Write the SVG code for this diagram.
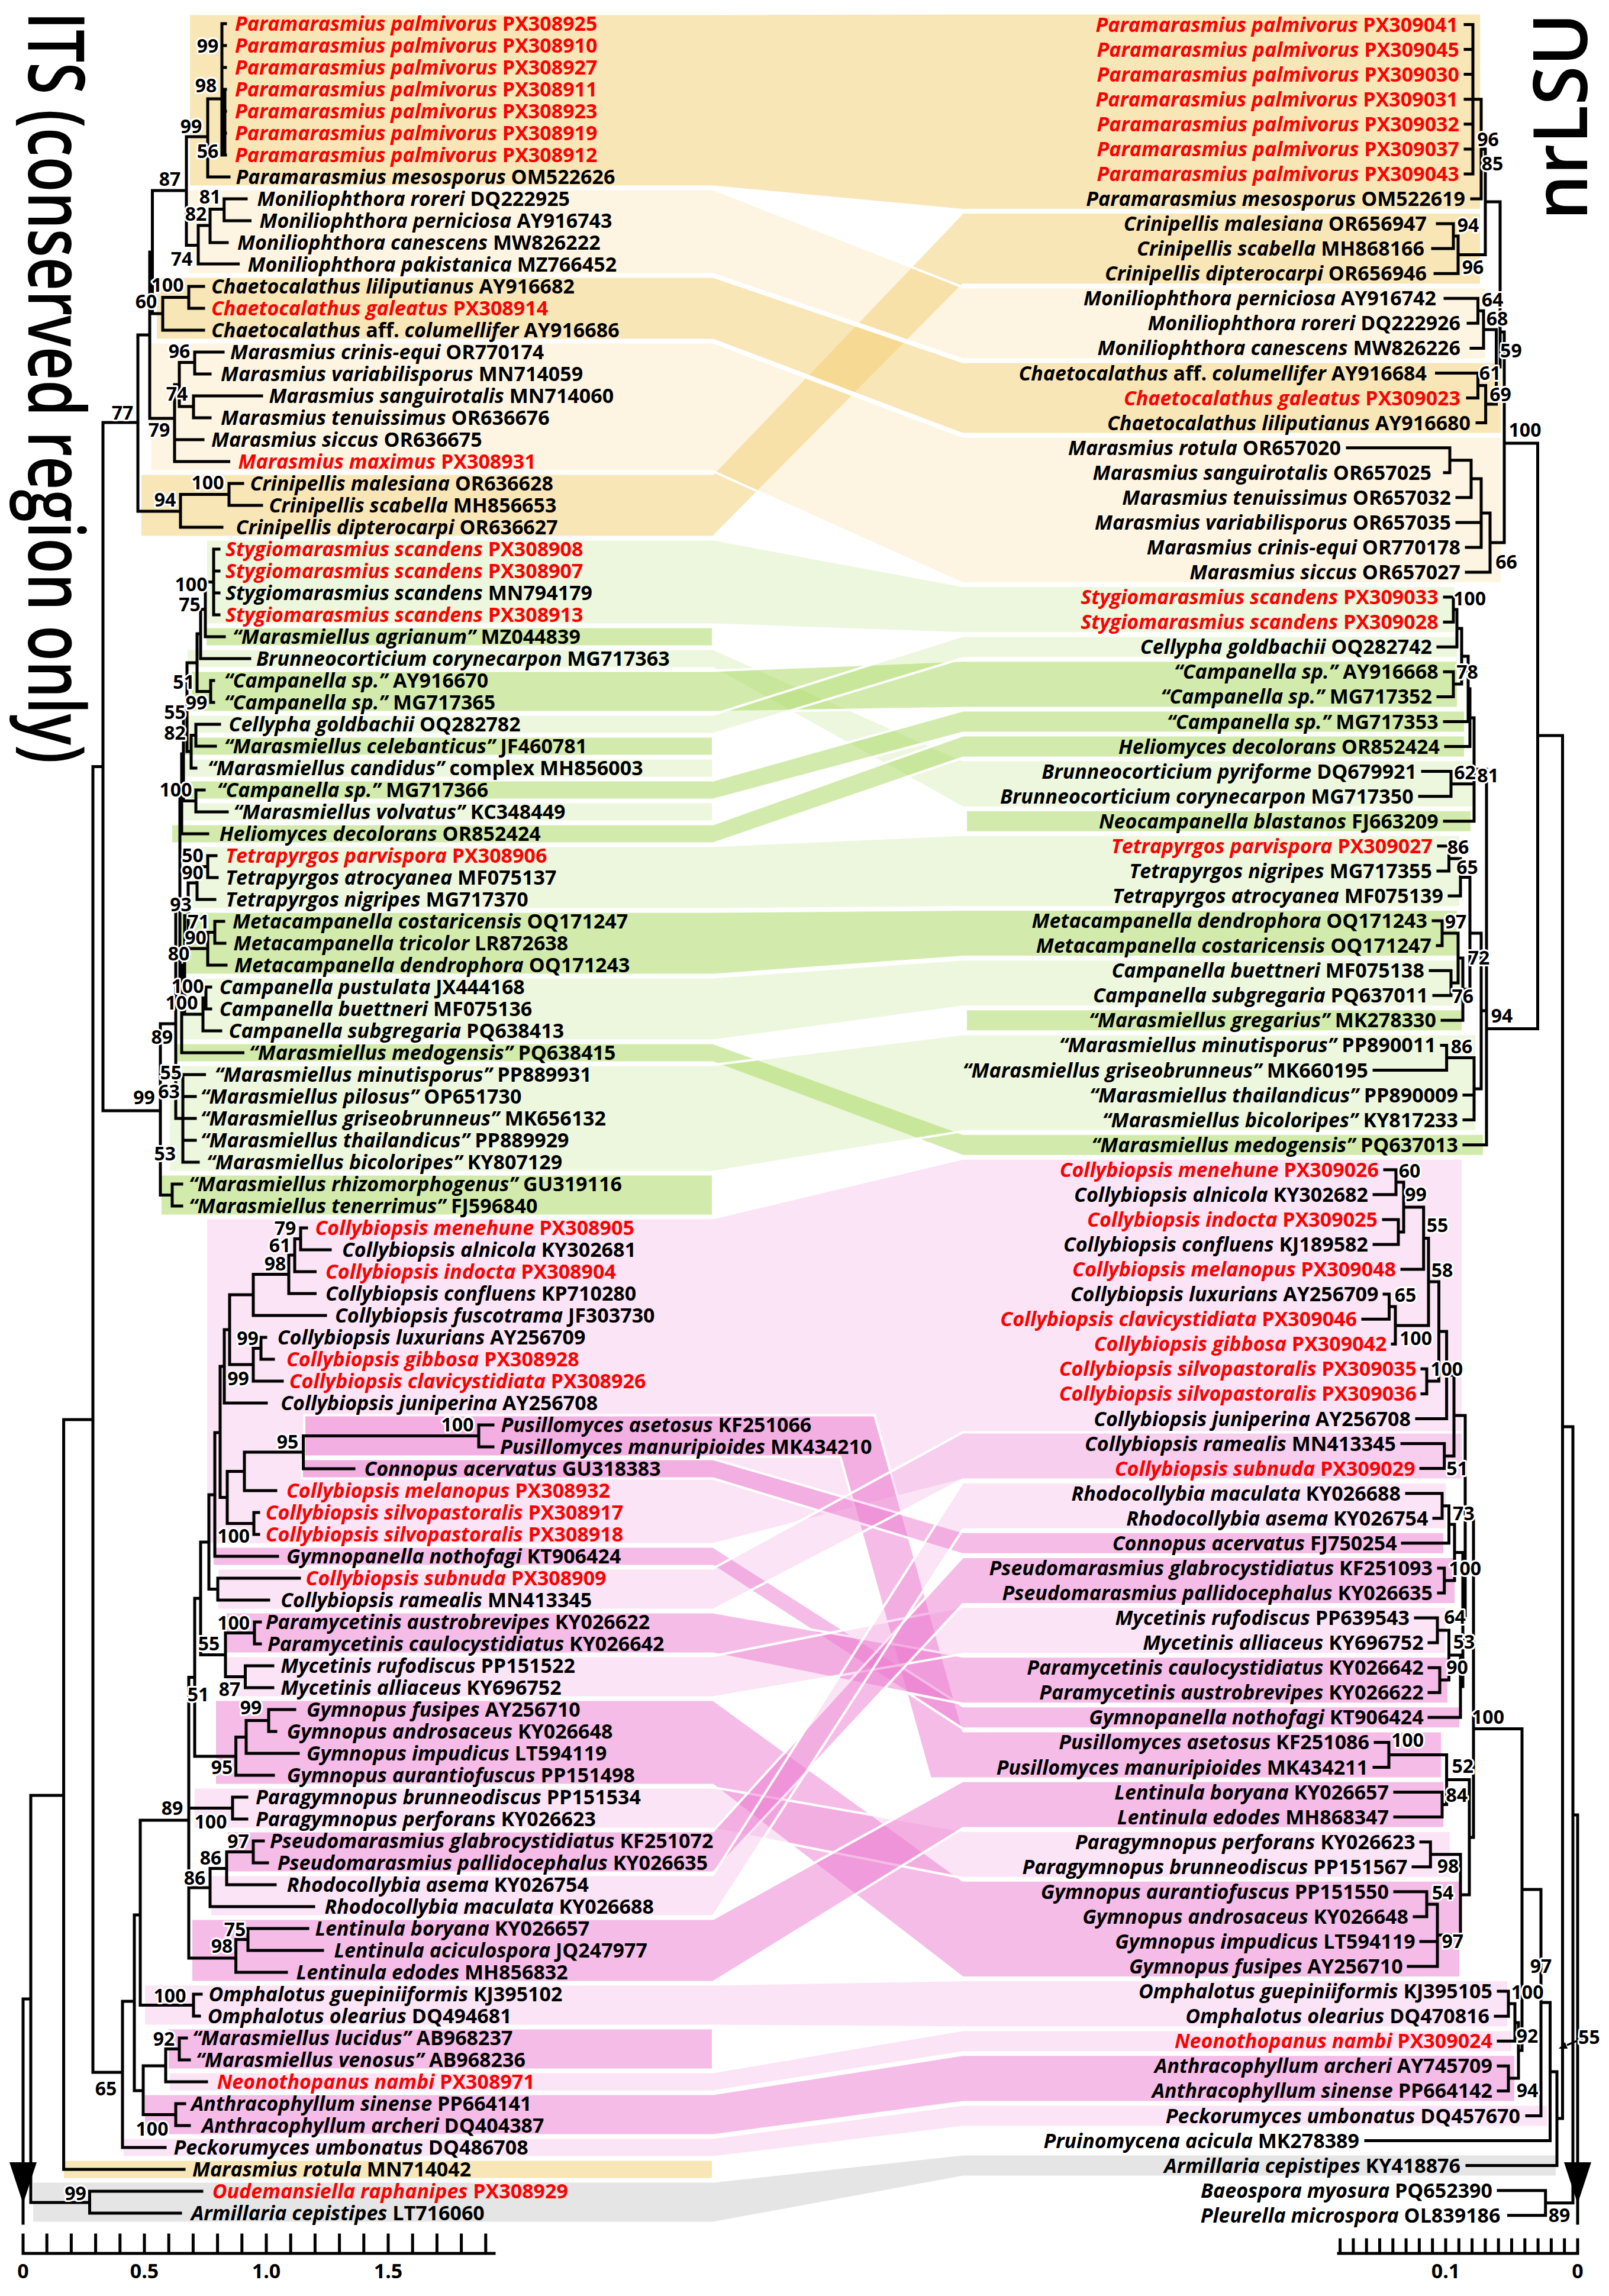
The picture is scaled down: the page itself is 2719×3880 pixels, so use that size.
<svg xmlns="http://www.w3.org/2000/svg" width="2719" height="3880" viewBox="0 0 2719 3880">
<style>
.t{font-family:"Open Sans","DejaVu Sans",sans-serif;font-size:34px;font-weight:700;fill:#000}
.e{text-anchor:end}
.i{font-style:italic}
.r{fill:#f00}
.n{font-family:"Open Sans","DejaVu Sans",sans-serif;font-size:32px;font-weight:700;text-anchor:middle;fill:#000;stroke:#fff;stroke-width:6px;paint-order:stroke;stroke-linejoin:round}
.sc{font-family:"Open Sans","DejaVu Sans",sans-serif;font-size:34px;font-weight:700;text-anchor:middle}
.ttl{font-family:"Open Sans","DejaVu Sans",sans-serif;font-size:132px;font-weight:600}
.br{fill:none;stroke:#000;stroke-width:5;stroke-linecap:square}
.b{stroke:#fff;stroke-width:4;stroke-linejoin:round}
.od{fill:#f3ce6f;fill-opacity:.5}
.ol{fill:#f3ce6f;fill-opacity:.2}
.gd{fill:#a5d75a;fill-opacity:.5}
.gl{fill:#a5d75a;fill-opacity:.2}
.pd{fill:#ec7acf;fill-opacity:.5}
.pl{fill:#ec7acf;fill-opacity:.2}
.gy{fill:#ccc;fill-opacity:.5}
</style>
<rect width="2719" height="3880" fill="#fff"/>
<g id="connectors">
<polygon class="b od" points="319,23.5 1205,23.5 1627,22.5 2503,22.5 2503,355 1627,355 1205,315.5 319,315.5"/>
<polygon class="b od" points="237,800.5 1205,800.5 1627,359.1 2503,359.1 2503,481.2 1627,481.2 1205,907.5 237,907.5"/>
<polygon class="b ol" points="317,319.5 1205,319.5 1627,485.3 2512,485.3 2512,607.4 1627,607.4 1205,463.5 317,463.5"/>
<polygon class="b od" points="263,467.5 1205,467.5 1627,611.5 2538,611.5 2538,733.6 1627,733.6 1205,574.5 263,574.5"/>
<polygon class="b ol" points="253.5,578.5 1205,578.5 1627,737.7 2538,737.7 2538,986.1 1627,986.1 1205,796.5 253.5,796.5"/>
<rect class="b od" x="106" y="3649.5" width="1099" height="33"/>
<polygon class="b gl" points="348,911.5 1205,911.5 1627,990.1 2460,990.1 2460,1070.2 1627,1070.2 1205,1055.5 348,1055.5"/>
<rect class="b gd" x="347" y="1059.5" width="858" height="33"/>
<polygon class="b gl" points="315,1096.5 1205,1096.5 1627,1284.6 2491,1284.6 2491,1364.7 1627,1364.7 1205,1129.5 315,1129.5"/>
<polygon class="b gd" points="322,1133.5 1205,1133.5 1627,1116.3 2464,1116.3 2464,1196.4 1627,1196.4 1205,1203.5 322,1203.5"/>
<polygon class="b gl" points="306,1207.5 1205,1207.5 1627,1074.3 2464,1074.3 2464,1112.3 1627,1112.3 1205,1240.5 306,1240.5"/>
<rect class="b gd" x="305" y="1244.5" width="900" height="33"/>
<rect class="b gl" x="303.5" y="1281.5" width="901.5" height="33"/>
<polygon class="b gd" points="305,1318.5 1205,1318.5 1627,1200.5 2476,1200.5 2476,1238.5 1627,1238.5 1205,1351.5 305,1351.5"/>
<rect class="b gl" x="305" y="1355.5" width="900" height="33"/>
<polygon class="b gd" points="289,1392.5 1205,1392.5 1627,1242.6 2476,1242.6 2476,1280.6 1627,1280.6 1205,1425.5 289,1425.5"/>
<rect class="b gd" x="1632" y="1368.8" width="855" height="38"/>
<polygon class="b gl" points="322,1429.5 1205,1429.5 1627,1410.8 2468,1410.8 2468,1533 1627,1533 1205,1536.5 322,1536.5"/>
<polygon class="b gd" points="302,1540.5 1205,1540.5 1627,1537.1 2464,1537.1 2464,1617.1 1627,1617.1 1205,1647.5 302,1647.5"/>
<polygon class="b gl" points="299,1651.5 1205,1651.5 1627,1621.2 2476,1621.2 2476,1701.3 1627,1701.3 1205,1758.5 299,1758.5"/>
<rect class="b gd" x="1632" y="1705.3" width="840" height="38"/>
<polygon class="b gd" points="293,1762.5 1205,1762.5 1627,1915.7 2508,1915.7 2508,1953.7 1627,1953.7 1205,1795.5 293,1795.5"/>
<polygon class="b gl" points="285,1799.5 1205,1799.5 1627,1747.4 2495,1747.4 2495,1911.6 1627,1911.6 1205,1980.5 285,1980.5"/>
<rect class="b gd" x="271" y="1984.5" width="934" height="70"/>
<polygon class="b pl" points="348,2058.5 1205,2058.5 1627,1957.8 2472,1957.8 2472,2500.6 1627,2500.6 1205,2609.5 348,2609.5"/>
<polygon class="b pd" points="514,2391.5 1478,2391.5 1628,2925.4 2437,2925.4 2437,3005.5 1572,3005.5 1420,2461.5 514,2461.5"/>
<polygon class="b pd" points="510,2465.5 1205,2465.5 1627,2588.8 2441,2588.8 2441,2626.8 1627,2626.8 1205,2498.5 510,2498.5"/>
<polygon class="b pd" points="359,2613.5 1205,2613.5 1627,2883.3 2468,2883.3 2468,2921.3 1627,2921.3 1205,2646.5 359,2646.5"/>
<polygon class="b pl" points="367,2650.5 1205,2650.5 1627,2420.6 2472,2420.6 2472,2500.6 1627,2500.6 1205,2720.5 367,2720.5"/>
<polygon class="b pd" points="381,2724.5 1205,2724.5 1627,2799.2 2448,2799.2 2448,2879.3 1627,2879.3 1205,2794.5 381,2794.5"/>
<polygon class="b pl" points="381,2798.5 1205,2798.5 1627,2715.1 2444,2715.1 2444,2795.1 1627,2795.1 1205,2868.5 381,2868.5"/>
<polygon class="b pd" points="363,2872.5 1205,2872.5 1627,3177.8 2468,3177.8 2468,3342.1 1627,3342.1 1205,3016.5 363,3016.5"/>
<polygon class="b pl" points="327,3020.5 1205,3020.5 1627,3093.7 2452,3093.7 2452,3173.8 1627,3173.8 1205,3090.5 327,3090.5"/>
<polygon class="b pd" points="383,3094.5 1205,3094.5 1627,2630.9 2460,2630.9 2460,2711 1627,2711 1205,3164.5 383,3164.5"/>
<polygon class="b pl" points="355,3168.5 1205,3168.5 1627,2504.7 2445,2504.7 2445,2584.8 1627,2584.8 1205,3238.5 355,3238.5"/>
<polygon class="b pd" points="323,3242.5 1205,3242.5 1627,3009.6 2441,3009.6 2441,3089.6 1627,3089.6 1205,3349.5 323,3349.5"/>
<polygon class="b pl" points="243,3353.5 1205,3353.5 1627,3346.1 2549,3346.1 2549,3426.2 1627,3426.2 1205,3423.5 243,3423.5"/>
<rect class="b pd" x="283" y="3427.5" width="922" height="70"/>
<polygon class="b pl" points="285,3501.5 1205,3501.5 1627,3430.3 2556,3430.3 2556,3468.3 1627,3468.3 1205,3534.5 285,3534.5"/>
<polygon class="b pd" points="243,3538.5 1205,3538.5 1627,3472.3 2561,3472.3 2561,3552.4 1627,3552.4 1205,3608.5 243,3608.5"/>
<polygon class="b pl" points="207,3612.5 1205,3612.5 1627,3556.5 2616,3556.5 2616,3594.5 1627,3594.5 1205,3645.5 207,3645.5"/>
<polygon class="b gy" points="54,3686.5 1205,3686.5 1627,3640.6 2631,3640.6 2631,3678.6 1627,3678.6 1205,3756.5 54,3756.5"/>
</g>
<g id="its-tree">
<path class="br" d="M39 3378V3757M39 3378H52M52 3034V3722M52 3034H107.6M52 3722H151.5M151.5 3703V3740M151.5 3703H341M151.5 3740H305M107.6 2399V3666M107.6 3666H311M107.6 2399H157M157 1295.5V3502M157 1295.5H174M174 714V1877M174 714H233M174 1877H271M157 3502H207
M233 566V864M233 864H305M233 566H253M305 835.5V891M305 835.5H387M387 817V854M387 817H410M387 854H442M305 891H375M253 426V707M253 707H295M253 426H257.5M257.5 322V530M257.5 530H275M257.5 322H315M275 502.5V558M275 502.5H319M319 484V521M319 484H344M319 521H344M275 558H344M315 231V414.5M315 231H351M315 414.5H335M351 167V299M351 167H375M351 299H387M375 40V262M375 40H381M375 77H381M375 114H381M375 151H381M375 188H381M375 225H381M375 262H381M380 151V262M335 381V446M335 381H355M335 446H402.6M355 353.5V410M355 353.5H378.7M355 410H384M378.7 336V373M378.7 336H416M378.7 373H422.5M295 650V780M295 650H303M295 743H343M295 780H386.6M303 612.5V687M303 612.5H329M303 687H327M329 595V632M329 595H377M329 632H355M327 669V706M327 669H442M327 706H355
M271 1730V2019.5M271 2019.5H291M291 2001V2038M291 2001H307M291 2038H307M271 1730H297M297 1523V1890M297 1890H309M309 1816V1964M309 1816H345.6M309 1853H330M309 1890H330M309 1927H330M309 1964H335M297 1523H304M304 1341.5V1705M304 1341.5H307M304 1705H307M307 1274V1409M307 1409H351M307 1274H310M310 1195V1353.5M310 1353.5H331M331 1335V1372M331 1335H345M331 1372H384M310 1195H316M316 1120V1270M316 1270H323M323 1242.5V1298M323 1298H331M323 1242.5H331M331 1224V1261M331 1224H371M331 1261H364M316 1120H333M333 1071V1168.5M333 1168.5H356M356 1150V1187M356 1150H361M356 1187H361M333 1071H339M339 1029.75V1113M339 1113H422M339 1029.75H347M347 983.5V1076M347 1076H379M347 983.5H361M361 928V1039M361 928H370M361 965H370M361 1002H370M361 1039H370M307 1631V1779M307 1779H410.5M307 1631H312M312 1547.5V1714M312 1714H343M343 1686.5V1742M343 1742H373M343 1686.5H348M348 1668V1705M348 1668H356M348 1705H356M312 1547.5H318M318 1492V1603M318 1603H351M351 1575.5V1631M351 1631H382M351 1575.5H363M363 1557V1594M363 1557H378M363 1594H380M318 1492H333M333 1464.5V1520M333 1520H363M333 1464.5H351M351 1446V1483M351 1446H365M351 1483H367
M207 3382V3629M207 3629H279M207 3382H227M227 3236V3533M227 3533H242M242 3491V3573.5M242 3491H280M280 3462.5V3518M280 3518H349M280 3462.5H303M303 3444V3481M303 3444H315M303 3481H320M242 3573.5H297M297 3555V3592M297 3555H312M297 3592H320M227 3236H237M237 3076V3388.5M237 3388.5H327M327 3370V3407M327 3370H340M327 3407H337M237 3076H319M319 2834.5V3309M319 3055.5H393M393 3037V3074M393 3037H417M393 3074H417M319 3190H355M355 3157.5V3222M355 3222H530M355 3157.5H383M383 3129.5V3185M383 3185H465M383 3129.5H428M428 3111V3148M428 3111H445M428 3148H452M319 3309H398.6M398.6 3277.5V3333M398.6 3333H484M398.6 3277.5H419M419 3259V3296M419 3259H520M419 3296H545M319 2834.5H329M329 2701V2968M329 2968H398.6M398.6 2935.5V3000M398.6 3000H462M398.6 2935.5H416M416 2907.5V2963M416 2963H504M416 2907.5H454M454 2889V2926M454 2889H498M454 2926H466M329 2701H339M339 2606V2796.5M339 2796.5H381M381 2759.5V2833.5M381 2759.5H430M430 2741V2778M430 2741H440M430 2778H440M381 2833.5H414.5M414.5 2815V2852M414.5 2815H461M414.5 2852H461M339 2606H353M353 2526V2685.5M353 2685.5H368M368 2667V2704M368 2667H506M368 2704H454M353 2526H363M363 2421V2630M363 2630H469M363 2421H372M372 2309V2530.5M372 2530.5H384M384 2486.5V2574.5M384 2574.5H429M429 2556V2593M429 2556H437M429 2593H437M384 2486.5H413M413 2454V2519M413 2519H466M413 2454H512.6M512.6 2426.5V2482M512.6 2482H598M512.6 2426.5H809M809 2408V2445M809 2408H833M809 2445H833M372 2309H379M379 2247V2371M379 2371H450M379 2247H388M388 2188V2306M388 2306H428M428 2278.5V2334M428 2334H477M428 2278.5H441M441 2260V2297M441 2260H449M441 2297H462M388 2188H428M428 2153.5V2223M428 2223H550M428 2153.5H488M488 2121V2186M488 2186H532.5M488 2121H498M498 2093.5V2149M498 2149H532.5M498 2093.5H508M508 2075V2112M508 2075H518M508 2112H558"/>
<polygon points="16,3654 62,3654 39,3724" fill="#000"/>
<path class="br" d="M39 3808H835M39 3777V3808M79.2 3777V3808M120.4 3777V3808M161.6 3777V3808M202.8 3777V3808M244 3777V3808M285.2 3777V3808M326.4 3777V3808M367.6 3777V3808M408.8 3777V3808M450 3777V3808M491.2 3777V3808M532.4 3777V3808M573.6 3777V3808M614.8 3777V3808M656 3777V3808M697.2 3777V3808M738.4 3777V3808M779.6 3777V3808M820.8 3777V3808" stroke-linecap="butt"/>
<text class="sc" x="39" y="3850">0</text><text class="sc" x="244" y="3850">0.5</text><text class="sc" x="450" y="3850">1.0</text><text class="sc" x="656" y="3850">1.5</text>
</g>
<g id="lsu-tree">
<path class="br" d="M2489 41.5V293.9M2476 41.5H2489M2476 83.6H2489M2476 125.6H2489M2476 167.7H2489M2476 209.8H2489M2476 251.9H2489M2476 293.9H2489M2503 167.7V336M2489 167.7H2503M2487 336H2503M2456 378.1V420.1M2429 378.1H2456M2421 420.1H2456M2464 399V462.2M2456 399H2464M2425 462.2H2464M2510 252V430.6M2503 252H2510M2464 430.6H2510M2497.5 504.3V546.3M2442 504.3H2497.5M2481 546.3H2497.5M2507 525.3V588.4M2497.5 525.3H2507M2486 588.4H2507M2497.5 630.5V672.6M2427.5 630.5H2497.5M2480 672.6H2497.5M2510.6 651.6V714.6M2497.5 651.6H2510.6M2496 714.6H2510.6M2528.5 556.9V683M2507 556.9H2528.5M2510.6 683H2528.5M2535 341V620M2510 341H2535M2528.5 620H2535M2450 756.7V798.8M2277 756.7H2450M2441 798.8H2450M2486 777.7V840.8M2450 777.7H2486M2462 840.8H2486M2503 809V925M2486 809H2503M2462 882.9H2503M2478 925H2503M2518 867V967.1M2503 867H2518M2478 967.1H2518M2542 561V917M2535 561H2542M2518 917H2542M2542 749H2598.5M2598.5 749V1738.5M2598.5 1243H2640.5M2640.5 1243V3580M2640.5 2411H2658M2658 2411V3722.7M2611.7 3722.7H2658M2658 3067H2666M2666 3067V3757M2611.7 3701.7V3743.8M2532 3701.7H2611.7M2549.5 3743.8H2611.7
M2456 1009.1V1051.2M2441 1009.1H2456M2441 1051.2H2456M2462 1030V1093.3M2456 1030H2462M2430 1093.3H2462M2456 1135.3V1177.4M2441 1135.3H2456M2430 1177.4H2456M2470 1062V1156M2462 1062H2470M2456 1156H2470M2481 1109V1219.5M2470 1109H2481M2441 1219.5H2481M2484 1164V1261.6M2481 1164H2484M2443 1261.6H2484M2452 1303.6V1345.7M2404 1303.6H2452M2399 1345.7H2452M2491 1213V1387.8M2484 1213H2491M2452 1324.7H2491M2441 1387.8H2491M2448.5 1429.8V1471.9M2431 1429.8H2448.5M2430 1471.9H2448.5M2468 1451V1514M2448.5 1451H2468M2449 1514H2468M2437 1556.1V1598.1M2422 1556.1H2437M2429 1598.1H2437M2452 1640.2V1682.3M2417 1640.2H2452M2423 1682.3H2452M2464 1577V1661M2437 1577H2464M2452 1661H2464M2472 1619V1724.3M2464 1619H2472M2437 1724.3H2472M2484 1482.5V1671.7M2468 1482.5H2484M2472 1671.7H2484M2444.6 1766.4V1808.5M2436 1766.4H2444.6M2322 1808.5H2444.6M2491 1787.5V1892.6M2444.6 1787.5H2491M2474 1850.6H2491M2474 1892.6H2491M2503 1577V1840M2484 1577H2503M2491 1840H2503M2512 1300V1934.7M2491 1300H2512M2503 1708H2512M2474 1934.7H2512M2512 1738.5H2598.5
M2359 1976.8V2018.8M2340 1976.8H2359M2322 2018.8H2359M2363 2060.9V2103M2338 2060.9H2363M2322 2103H2363M2372 1997.8V2082M2359 1997.8H2372M2363 2082H2372M2405.7 2040V2145.1M2372 2040H2405.7M2369 2145.1H2405.7M2347.5 2187.1V2229.2M2339 2187.1H2347.5M2303 2229.2H2347.5M2358 2208V2271.3M2347.5 2208H2358M2353 2271.3H2358M2414 2092.5V2240M2405.7 2092.5H2414M2358 2240H2414M2411 2313.3V2355.4M2403 2313.3H2411M2403 2355.4H2411M2431.5 2166V2334M2414 2166H2431.5M2411 2334H2431.5M2444.6 2250V2397.5M2431.5 2250H2444.6M2394 2397.5H2444.6M2440.7 2439.6V2481.6M2369 2439.6H2440.7M2401 2481.6H2440.7M2457 2324V2460.6M2444.6 2324H2457M2440.7 2460.6H2457M2437 2523.7V2565.8M2377 2523.7H2437M2423 2565.8H2437M2448.5 2544.7V2607.8M2437 2544.7H2448.5M2370 2607.8H2448.5M2440.7 2649.9V2692M2431 2649.9H2440.7M2431 2692H2440.7M2458 2576V2671M2448.5 2576H2458M2440.7 2671H2458M2429 2734.1V2776.1M2392 2734.1H2429M2415 2776.1H2429M2433 2818.2V2860.3M2415 2818.2H2433M2415 2860.3H2433M2448.5 2755V2839M2429 2755H2448.5M2433 2839H2448.5M2468 2797V2902.3M2448.5 2797H2468M2415 2902.3H2468M2472 2623.5V2850M2458 2623.5H2472M2468 2850H2472M2476 2392V2737M2457 2392H2476M2472 2737H2476M2347 2944.4V2986.5M2324 2944.4H2347M2322 2986.5H2347M2437 3028.6V3070.6M2357 3028.6H2437M2357 3070.6H2437M2444.6 2965.5V3049.6M2347 2965.5H2444.6M2437 3049.6H2444.6M2417.3 3112.7V3154.8M2401 3112.7H2417.3M2388 3154.8H2417.3M2411 3196.8V3238.9M2357 3196.8H2411M2390 3238.9H2411M2429 3218V3323.1M2411 3218H2429M2401 3281H2429M2380 3323.1H2429M2468 3133.8V3270M2417.3 3133.8H2468M2429 3270H2468M2483 3007.5V3202M2444.6 3007.5H2483M2468 3202H2483M2490 2564.5V3105M2476 2564.5H2490M2483 3105H2490M2490 2921.5H2572M2572 2921.5V3465M2549 3365.1V3407.2M2532 3365.1H2549M2527 3407.2H2549M2560 3386V3449.3M2549 3386H2560M2532 3449.3H2560M2549 3491.3V3533.4M2532 3491.3H2549M2532 3533.4H2549M2566 3418V3512M2560 3418H2566M2549 3512H2566M2566 3465H2572M2604 3193V3575.5M2572 3193H2604M2580 3575.5H2604M2619.5 3384V3617.6M2604 3384H2619.5M2308 3617.6H2619.5M2631 3501V3659.6M2619.5 3501H2631M2479 3659.6H2631M2631 3580H2640.5"/>
<polygon points="2643,3654 2689,3654 2666,3724" fill="#000"/>
<path d="M2674 3445L2648 3456" stroke="#000" stroke-width="3" fill="none"/>
<polygon points="2634,3462 2649.2,3462.1 2644.6,3451.1" fill="#000"/>
<path class="br" d="M2262 3808H2666M2666 3785V3808M2643.7 3785V3808M2621.4 3785V3808M2599.1 3785V3808M2576.8 3785V3808M2554.5 3785V3808M2532.2 3785V3808M2509.9 3785V3808M2487.6 3785V3808M2465.3 3785V3808M2443 3785V3808M2420.7 3785V3808M2398.4 3785V3808M2376.1 3785V3808M2353.8 3785V3808M2331.5 3785V3808M2309.2 3785V3808M2286.9 3785V3808M2264.6 3785V3808" stroke-linecap="butt"/>
<text class="sc" x="2443" y="3850">0.1</text><text class="sc" x="2666" y="3850">0</text>
</g>
<g id="titles">
<text id="title-its" class="ttl" transform="translate(48 20) rotate(90)" textLength="1270" lengthAdjust="spacingAndGlyphs">ITS (conserved region only)</text>
<text id="title-lsu" class="ttl" style="font-size:126px" transform="translate(2682 372) rotate(-90)" textLength="350" lengthAdjust="spacingAndGlyphs">nrLSU</text>
</g>
<g id="its-labels">
<text id="L1" class="t r" x="397" y="52"><tspan class="i">Paramarasmius palmivorus</tspan> PX308925</text>
<text id="L2" class="t r" x="397" y="89"><tspan class="i">Paramarasmius palmivorus</tspan> PX308910</text>
<text id="L3" class="t r" x="397" y="126"><tspan class="i">Paramarasmius palmivorus</tspan> PX308927</text>
<text id="L4" class="t r" x="397" y="163"><tspan class="i">Paramarasmius palmivorus</tspan> PX308911</text>
<text id="L5" class="t r" x="397" y="200"><tspan class="i">Paramarasmius palmivorus</tspan> PX308923</text>
<text id="L6" class="t r" x="397" y="237"><tspan class="i">Paramarasmius palmivorus</tspan> PX308919</text>
<text id="L7" class="t r" x="397" y="274"><tspan class="i">Paramarasmius palmivorus</tspan> PX308912</text>
<text id="L8" class="t" x="398.6" y="311"><tspan class="i">Paramarasmius mesosporus</tspan> OM522626</text>
<text id="L9" class="t" x="434.5" y="348"><tspan class="i">Moniliophthora roreri</tspan> DQ222925</text>
<text id="L10" class="t" x="438.5" y="385"><tspan class="i">Moniliophthora perniciosa</tspan> AY916743</text>
<text id="L11" class="t" x="401" y="422"><tspan class="i">Moniliophthora canescens</tspan> MW826222</text>
<text id="L12" class="t" x="418.5" y="459"><tspan class="i">Moniliophthora pakistanica</tspan> MZ766452</text>
<text id="L13" class="t" x="357" y="496"><tspan class="i">Chaetocalathus liliputianus</tspan> AY916682</text>
<text id="L14" class="t r" x="357" y="533"><tspan class="i">Chaetocalathus galeatus</tspan> PX308914</text>
<text id="L15" class="t" x="357" y="570"><tspan class="i">Chaetocalathus</tspan> aff. <tspan class="i">columellifer</tspan> AY916686</text>
<text id="L16" class="t" x="389" y="607"><tspan class="i">Marasmius crinis-equi</tspan> OR770174</text>
<text id="L17" class="t" x="373" y="644"><tspan class="i">Marasmius variabilisporus</tspan> MN714059</text>
<text id="L18" class="t" x="454.4" y="681"><tspan class="i">Marasmius sanguirotalis</tspan> MN714060</text>
<text id="L19" class="t" x="373" y="718"><tspan class="i">Marasmius tenuissimus</tspan> OR636676</text>
<text id="L20" class="t" x="357" y="755"><tspan class="i">Marasmius siccus</tspan> OR636675</text>
<text id="L21" class="t r" x="402.6" y="792"><tspan class="i">Marasmius maximus</tspan> PX308931</text>
<text id="L22" class="t" x="422.5" y="829"><tspan class="i">Crinipellis malesiana</tspan> OR636628</text>
<text id="L23" class="t" x="454.4" y="866"><tspan class="i">Crinipellis scabella</tspan> MH856653</text>
<text id="L24" class="t" x="398.6" y="903"><tspan class="i">Crinipellis dipterocarpi</tspan> OR636627</text>
<text id="L25" class="t r" x="381" y="940"><tspan class="i">Stygiomarasmius scandens</tspan> PX308908</text>
<text id="L26" class="t r" x="381" y="977"><tspan class="i">Stygiomarasmius scandens</tspan> PX308907</text>
<text id="L27" class="t" x="381" y="1014"><tspan class="i">Stygiomarasmius scandens</tspan> MN794179</text>
<text id="L28" class="t r" x="381" y="1051"><tspan class="i">Stygiomarasmius scandens</tspan> PX308913</text>
<text id="L29" class="t" x="393" y="1088"><tspan class="i">“Marasmiellus agrianum”</tspan> MZ044839</text>
<text id="L30" class="t" x="433" y="1125"><tspan class="i">Brunneocorticium corynecarpon</tspan> MG717363</text>
<text id="L31" class="t" x="378.7" y="1162"><tspan class="i">“Campanella sp.”</tspan> AY916670</text>
<text id="L32" class="t" x="378.7" y="1199"><tspan class="i">“Campanella sp.”</tspan> MG717365</text>
<text id="L33" class="t" x="386.6" y="1236"><tspan class="i">Cellypha goldbachii</tspan> OQ282782</text>
<text id="L34" class="t" x="378.7" y="1273"><tspan class="i">“Marasmiellus celebanticus”</tspan> JF460781</text>
<text id="L35" class="t" x="350.8" y="1310"><tspan class="i">“Marasmiellus candidus”</tspan> complex MH856003</text>
<text id="L36" class="t" x="366.7" y="1347"><tspan class="i">“Campanella sp.”</tspan> MG717366</text>
<text id="L37" class="t" x="394.6" y="1384"><tspan class="i">“Marasmiellus volvatus”</tspan> KC348449</text>
<text id="L38" class="t" x="370.7" y="1421"><tspan class="i">Heliomyces decolorans</tspan> OR852424</text>
<text id="L39" class="t r" x="381" y="1458"><tspan class="i">Tetrapyrgos parvispora</tspan> PX308906</text>
<text id="L40" class="t" x="381" y="1495"><tspan class="i">Tetrapyrgos atrocyanea</tspan> MF075137</text>
<text id="L41" class="t" x="381" y="1532"><tspan class="i">Tetrapyrgos nigripes</tspan> MG717370</text>
<text id="L42" class="t" x="393" y="1569"><tspan class="i">Metacampanella costaricensis</tspan> OQ171247</text>
<text id="L43" class="t" x="394.6" y="1606"><tspan class="i">Metacampanella tricolor</tspan> LR872638</text>
<text id="L44" class="t" x="396" y="1643"><tspan class="i">Metacampanella dendrophora</tspan> OQ171243</text>
<text id="L45" class="t" x="370.7" y="1680"><tspan class="i">Campanella pustulata</tspan> JX444168</text>
<text id="L46" class="t" x="370.7" y="1717"><tspan class="i">Campanella buettneri</tspan> MF075136</text>
<text id="L47" class="t" x="386.6" y="1754"><tspan class="i">Campanella subgregaria</tspan> PQ638413</text>
<text id="L48" class="t" x="421" y="1791"><tspan class="i">“Marasmiellus medogensis”</tspan> PQ638415</text>
<text id="L49" class="t" x="362.7" y="1828"><tspan class="i">“Marasmiellus minutisporus”</tspan> PP889931</text>
<text id="L50" class="t" x="338.8" y="1865"><tspan class="i">“Marasmiellus pilosus”</tspan> OP651730</text>
<text id="L51" class="t" x="338.8" y="1902"><tspan class="i">“Marasmiellus griseobrunneus”</tspan> MK656132</text>
<text id="L52" class="t" x="338.8" y="1939"><tspan class="i">“Marasmiellus thailandicus”</tspan> PP889929</text>
<text id="L53" class="t" x="349" y="1976"><tspan class="i">“Marasmiellus bicoloripes”</tspan> KY807129</text>
<text id="L54" class="t" x="319" y="2013"><tspan class="i">“Marasmiellus rhizomorphogenus”</tspan> GU319116</text>
<text id="L55" class="t" x="319" y="2050"><tspan class="i">“Marasmiellus tenerrimus”</tspan> FJ596840</text>
<text id="L56" class="t r" x="532.5" y="2087"><tspan class="i">Collybiopsis menehune</tspan> PX308905</text>
<text id="L57" class="t" x="578" y="2124"><tspan class="i">Collybiopsis alnicola</tspan> KY302681</text>
<text id="L58" class="t r" x="550" y="2161"><tspan class="i">Collybiopsis indocta</tspan> PX308904</text>
<text id="L59" class="t" x="550" y="2198"><tspan class="i">Collybiopsis confluens</tspan> KP710280</text>
<text id="L60" class="t" x="566" y="2235"><tspan class="i">Collybiopsis fuscotrama</tspan> JF303730</text>
<text id="L61" class="t" x="468.7" y="2272"><tspan class="i">Collybiopsis luxurians</tspan> AY256709</text>
<text id="L62" class="t r" x="484" y="2309"><tspan class="i">Collybiopsis gibbosa</tspan> PX308928</text>
<text id="L63" class="t r" x="488.7" y="2346"><tspan class="i">Collybiopsis clavicystidiata</tspan> PX308926</text>
<text id="L64" class="t" x="474.3" y="2383"><tspan class="i">Collybiopsis juniperina</tspan> AY256708</text>
<text id="L65" class="t" x="846.6" y="2420"><tspan class="i">Pusillomyces asetosus</tspan> KF251066</text>
<text id="L66" class="t" x="845" y="2457"><tspan class="i">Pusillomyces manuripioides</tspan> MK434210</text>
<text id="L67" class="t" x="615.4" y="2494"><tspan class="i">Connopus acervatus</tspan> GU318383</text>
<text id="L68" class="t r" x="484" y="2531"><tspan class="i">Collybiopsis melanopus</tspan> PX308932</text>
<text id="L69" class="t r" x="448.8" y="2568"><tspan class="i">Collybiopsis silvopastoralis</tspan> PX308917</text>
<text id="L70" class="t r" x="448.8" y="2605"><tspan class="i">Collybiopsis silvopastoralis</tspan> PX308918</text>
<text id="L71" class="t" x="484" y="2642"><tspan class="i">Gymnopanella nothofagi</tspan> KT906424</text>
<text id="L72" class="t r" x="516.6" y="2679"><tspan class="i">Collybiopsis subnuda</tspan> PX308909</text>
<text id="L73" class="t" x="474.3" y="2716"><tspan class="i">Collybiopsis ramealis</tspan> MN413345</text>
<text id="L74" class="t" x="448.8" y="2753"><tspan class="i">Paramycetinis austrobrevipes</tspan> KY026622</text>
<text id="L75" class="t" x="452" y="2790"><tspan class="i">Paramycetinis caulocystidiatus</tspan> KY026642</text>
<text id="L76" class="t" x="474.3" y="2827"><tspan class="i">Mycetinis rufodiscus</tspan> PP151522</text>
<text id="L77" class="t" x="474.3" y="2864"><tspan class="i">Mycetinis alliaceus</tspan> KY696752</text>
<text id="L78" class="t" x="518" y="2901"><tspan class="i">Gymnopus fusipes</tspan> AY256710</text>
<text id="L79" class="t" x="484.7" y="2938"><tspan class="i">Gymnopus androsaceus</tspan> KY026648</text>
<text id="L80" class="t" x="518" y="2975"><tspan class="i">Gymnopus impudicus</tspan> LT594119</text>
<text id="L81" class="t" x="484.7" y="3012"><tspan class="i">Gymnopus aurantiofuscus</tspan> PP151498</text>
<text id="L82" class="t" x="432" y="3049"><tspan class="i">Paragymnopus brunneodiscus</tspan> PP151534</text>
<text id="L83" class="t" x="432" y="3086"><tspan class="i">Paragymnopus perforans</tspan> KY026623</text>
<text id="L84" class="t" x="456" y="3123"><tspan class="i">Pseudomarasmius glabrocystidiatus</tspan> KF251072</text>
<text id="L85" class="t" x="468.7" y="3160"><tspan class="i">Pseudomarasmius pallidocephalus</tspan> KY026635</text>
<text id="L86" class="t" x="484.7" y="3197"><tspan class="i">Rhodocollybia asema</tspan> KY026754</text>
<text id="L87" class="t" x="548.5" y="3234"><tspan class="i">Rhodocollybia maculata</tspan> KY026688</text>
<text id="L88" class="t" x="532.5" y="3271"><tspan class="i">Lentinula boryana</tspan> KY026657</text>
<text id="L89" class="t" x="564.4" y="3308"><tspan class="i">Lentinula aciculospora</tspan> JQ247977</text>
<text id="L90" class="t" x="500.6" y="3345"><tspan class="i">Lentinula edodes</tspan> MH856832</text>
<text id="L91" class="t" x="352.4" y="3382"><tspan class="i">Omphalotus guepiniiformis</tspan> KJ395102</text>
<text id="L92" class="t" x="350.8" y="3419"><tspan class="i">Omphalotus olearius</tspan> DQ494681</text>
<text id="L93" class="t" x="325" y="3456"><tspan class="i">“Marasmiellus lucidus”</tspan> AB968237</text>
<text id="L94" class="t" x="331" y="3493"><tspan class="i">“Marasmiellus venosus”</tspan> AB968236</text>
<text id="L95" class="t r" x="366.7" y="3530"><tspan class="i">Neonothopanus nambi</tspan> PX308971</text>
<text id="L96" class="t" x="323" y="3567"><tspan class="i">Anthracophyllum sinense</tspan> PP664141</text>
<text id="L97" class="t" x="341" y="3604"><tspan class="i">Anthracophyllum archeri</tspan> DQ404387</text>
<text id="L98" class="t" x="293.4" y="3641"><tspan class="i">Peckorumyces umbonatus</tspan> DQ486708</text>
<text id="L99" class="t" x="325" y="3678"><tspan class="i">Marasmius rotula</tspan> MN714042</text>
<text id="L100" class="t r" x="358.7" y="3715"><tspan class="i">Oudemansiella raphanipes</tspan> PX308929</text>
<text id="L101" class="t" x="323" y="3752"><tspan class="i">Armillaria cepistipes</tspan> LT716060</text>
</g>
<g id="lsu-labels">
<text id="R1" class="t e r" x="2464" y="53.5"><tspan class="i">Paramarasmius palmivorus</tspan> PX309041</text>
<text id="R2" class="t e r" x="2466" y="95.6"><tspan class="i">Paramarasmius palmivorus</tspan> PX309045</text>
<text id="R3" class="t e r" x="2466" y="137.6"><tspan class="i">Paramarasmius palmivorus</tspan> PX309030</text>
<text id="R4" class="t e r" x="2464" y="179.7"><tspan class="i">Paramarasmius palmivorus</tspan> PX309031</text>
<text id="R5" class="t e r" x="2466" y="221.8"><tspan class="i">Paramarasmius palmivorus</tspan> PX309032</text>
<text id="R6" class="t e r" x="2466" y="263.9"><tspan class="i">Paramarasmius palmivorus</tspan> PX309037</text>
<text id="R7" class="t e r" x="2466" y="305.9"><tspan class="i">Paramarasmius palmivorus</tspan> PX309043</text>
<text id="R8" class="t e" x="2476" y="348"><tspan class="i">Paramarasmius mesosporus</tspan> OM522619</text>
<text id="R9" class="t e" x="2411" y="390.1"><tspan class="i">Crinipellis malesiana</tspan> OR656947</text>
<text id="R10" class="t e" x="2407" y="432.1"><tspan class="i">Crinipellis scabella</tspan> MH868166</text>
<text id="R11" class="t e" x="2411" y="474.2"><tspan class="i">Crinipellis dipterocarpi</tspan> OR656946</text>
<text id="R12" class="t e" x="2427" y="516.3"><tspan class="i">Moniliophthora perniciosa</tspan> AY916742</text>
<text id="R13" class="t e" x="2468" y="558.3"><tspan class="i">Moniliophthora roreri</tspan> DQ222926</text>
<text id="R14" class="t e" x="2468" y="600.4"><tspan class="i">Moniliophthora canescens</tspan> MW826226</text>
<text id="R15" class="t e" x="2411" y="642.5"><tspan class="i">Chaetocalathus</tspan> aff. <tspan class="i">columellifer</tspan> AY916684</text>
<text id="R16" class="t e r" x="2468" y="684.6"><tspan class="i">Chaetocalathus galeatus</tspan> PX309023</text>
<text id="R17" class="t e" x="2485" y="726.6"><tspan class="i">Chaetocalathus liliputianus</tspan> AY916680</text>
<text id="R18" class="t e" x="2266" y="768.7"><tspan class="i">Marasmius rotula</tspan> OR657020</text>
<text id="R19" class="t e" x="2419" y="810.8"><tspan class="i">Marasmius sanguirotalis</tspan> OR657025</text>
<text id="R20" class="t e" x="2452" y="852.8"><tspan class="i">Marasmius tenuissimus</tspan> OR657032</text>
<text id="R21" class="t e" x="2452" y="894.9"><tspan class="i">Marasmius variabilisporus</tspan> OR657035</text>
<text id="R22" class="t e" x="2468" y="937"><tspan class="i">Marasmius crinis-equi</tspan> OR770178</text>
<text id="R23" class="t e" x="2468" y="979.1"><tspan class="i">Marasmius siccus</tspan> OR657027</text>
<text id="R24" class="t e r" x="2430.6" y="1021.1"><tspan class="i">Stygiomarasmius scandens</tspan> PX309033</text>
<text id="R25" class="t e r" x="2430.6" y="1063.2"><tspan class="i">Stygiomarasmius scandens</tspan> PX309028</text>
<text id="R26" class="t e" x="2420" y="1105.3"><tspan class="i">Cellypha goldbachii</tspan> OQ282742</text>
<text id="R27" class="t e" x="2430.6" y="1147.3"><tspan class="i">“Campanella sp.”</tspan> AY916668</text>
<text id="R28" class="t e" x="2420" y="1189.4"><tspan class="i">“Campanella sp.”</tspan> MG717352</text>
<text id="R29" class="t e" x="2430.6" y="1231.5"><tspan class="i">“Campanella sp.”</tspan> MG717353</text>
<text id="R30" class="t e" x="2433" y="1273.6"><tspan class="i">Heliomyces decolorans</tspan> OR852424</text>
<text id="R31" class="t e" x="2394" y="1315.6"><tspan class="i">Brunneocorticium pyriforme</tspan> DQ679921</text>
<text id="R32" class="t e" x="2388.6" y="1357.7"><tspan class="i">Brunneocorticium corynecarpon</tspan> MG717350</text>
<text id="R33" class="t e" x="2430.6" y="1399.8"><tspan class="i">Neocampanella blastanos</tspan> FJ663209</text>
<text id="R34" class="t e r" x="2421" y="1441.8"><tspan class="i">Tetrapyrgos parvispora</tspan> PX309027</text>
<text id="R35" class="t e" x="2420" y="1483.9"><tspan class="i">Tetrapyrgos nigripes</tspan> MG717355</text>
<text id="R36" class="t e" x="2439" y="1526"><tspan class="i">Tetrapyrgos atrocyanea</tspan> MF075139</text>
<text id="R37" class="t e" x="2412" y="1568.1"><tspan class="i">Metacampanella dendrophora</tspan> OQ171243</text>
<text id="R38" class="t e" x="2419" y="1610.1"><tspan class="i">Metacampanella costaricensis</tspan> OQ171247</text>
<text id="R39" class="t e" x="2407" y="1652.2"><tspan class="i">Campanella buettneri</tspan> MF075138</text>
<text id="R40" class="t e" x="2413.5" y="1694.3"><tspan class="i">Campanella subgregaria</tspan> PQ637011</text>
<text id="R41" class="t e" x="2427" y="1736.3"><tspan class="i">“Marasmiellus gregarius”</tspan> MK278330</text>
<text id="R42" class="t e" x="2426.7" y="1778.4"><tspan class="i">“Marasmiellus minutisporus”</tspan> PP890011</text>
<text id="R43" class="t e" x="2312" y="1820.5"><tspan class="i">“Marasmiellus griseobrunneus”</tspan> MK660195</text>
<text id="R44" class="t e" x="2464" y="1862.6"><tspan class="i">“Marasmiellus thailandicus”</tspan> PP890009</text>
<text id="R45" class="t e" x="2464" y="1904.6"><tspan class="i">“Marasmiellus bicoloripes”</tspan> KY817233</text>
<text id="R46" class="t e" x="2464" y="1946.7"><tspan class="i">“Marasmiellus medogensis”</tspan> PQ637013</text>
<text id="R47" class="t e r" x="2330" y="1988.8"><tspan class="i">Collybiopsis menehune</tspan> PX309026</text>
<text id="R48" class="t e" x="2312" y="2030.8"><tspan class="i">Collybiopsis alnicola</tspan> KY302682</text>
<text id="R49" class="t e r" x="2328" y="2072.9"><tspan class="i">Collybiopsis indocta</tspan> PX309025</text>
<text id="R50" class="t e" x="2312" y="2115"><tspan class="i">Collybiopsis confluens</tspan> KJ189582</text>
<text id="R51" class="t e r" x="2359" y="2157.1"><tspan class="i">Collybiopsis melanopus</tspan> PX309048</text>
<text id="R52" class="t e" x="2329.5" y="2199.1"><tspan class="i">Collybiopsis luxurians</tspan> AY256709</text>
<text id="R53" class="t e r" x="2293" y="2241.2"><tspan class="i">Collybiopsis clavicystidiata</tspan> PX309046</text>
<text id="R54" class="t e r" x="2343.5" y="2283.3"><tspan class="i">Collybiopsis gibbosa</tspan> PX309042</text>
<text id="R55" class="t e r" x="2394" y="2325.3"><tspan class="i">Collybiopsis silvopastoralis</tspan> PX309035</text>
<text id="R56" class="t e r" x="2394" y="2367.4"><tspan class="i">Collybiopsis silvopastoralis</tspan> PX309036</text>
<text id="R57" class="t e" x="2384" y="2409.5"><tspan class="i">Collybiopsis juniperina</tspan> AY256708</text>
<text id="R58" class="t e" x="2359" y="2451.6"><tspan class="i">Collybiopsis ramealis</tspan> MN413345</text>
<text id="R59" class="t e r" x="2391.7" y="2493.6"><tspan class="i">Collybiopsis subnuda</tspan> PX309029</text>
<text id="R60" class="t e" x="2367" y="2535.7"><tspan class="i">Rhodocollybia maculata</tspan> KY026688</text>
<text id="R61" class="t e" x="2413.5" y="2577.8"><tspan class="i">Rhodocollybia asema</tspan> KY026754</text>
<text id="R62" class="t e" x="2360.6" y="2619.8"><tspan class="i">Connopus acervatus</tspan> FJ750254</text>
<text id="R63" class="t e" x="2421" y="2661.9"><tspan class="i">Pseudomarasmius glabrocystidiatus</tspan> KF251093</text>
<text id="R64" class="t e" x="2421" y="2704"><tspan class="i">Pseudomarasmius pallidocephalus</tspan> KY026635</text>
<text id="R65" class="t e" x="2382" y="2746.1"><tspan class="i">Mycetinis rufodiscus</tspan> PP639543</text>
<text id="R66" class="t e" x="2405.7" y="2788.1"><tspan class="i">Mycetinis alliaceus</tspan> KY696752</text>
<text id="R67" class="t e" x="2405.7" y="2830.2"><tspan class="i">Paramycetinis caulocystidiatus</tspan> KY026642</text>
<text id="R68" class="t e" x="2405.7" y="2872.3"><tspan class="i">Paramycetinis austrobrevipes</tspan> KY026622</text>
<text id="R69" class="t e" x="2405.7" y="2914.3"><tspan class="i">Gymnopanella nothofagi</tspan> KT906424</text>
<text id="R70" class="t e" x="2314" y="2956.4"><tspan class="i">Pusillomyces asetosus</tspan> KF251086</text>
<text id="R71" class="t e" x="2312" y="2998.5"><tspan class="i">Pusillomyces manuripioides</tspan> MK434211</text>
<text id="R72" class="t e" x="2347" y="3040.6"><tspan class="i">Lentinula boryana</tspan> KY026657</text>
<text id="R73" class="t e" x="2347" y="3082.6"><tspan class="i">Lentinula edodes</tspan> MH868347</text>
<text id="R74" class="t e" x="2391.7" y="3124.7"><tspan class="i">Paragymnopus perforans</tspan> KY026623</text>
<text id="R75" class="t e" x="2378.5" y="3166.8"><tspan class="i">Paragymnopus brunneodiscus</tspan> PP151567</text>
<text id="R76" class="t e" x="2347" y="3208.8"><tspan class="i">Gymnopus aurantiofuscus</tspan> PP151550</text>
<text id="R77" class="t e" x="2380" y="3250.9"><tspan class="i">Gymnopus androsaceus</tspan> KY026648</text>
<text id="R78" class="t e" x="2391.7" y="3293"><tspan class="i">Gymnopus impudicus</tspan> LT594119</text>
<text id="R79" class="t e" x="2370.7" y="3335.1"><tspan class="i">Gymnopus fusipes</tspan> AY256710</text>
<text id="R80" class="t e" x="2522" y="3377.1"><tspan class="i">Omphalotus guepiniiformis</tspan> KJ395105</text>
<text id="R81" class="t e" x="2517" y="3419.2"><tspan class="i">Omphalotus olearius</tspan> DQ470816</text>
<text id="R82" class="t e r" x="2522" y="3461.3"><tspan class="i">Neonothopanus nambi</tspan> PX309024</text>
<text id="R83" class="t e" x="2522" y="3503.3"><tspan class="i">Anthracophyllum archeri</tspan> AY745709</text>
<text id="R84" class="t e" x="2522" y="3545.4"><tspan class="i">Anthracophyllum sinense</tspan> PP664142</text>
<text id="R85" class="t e" x="2569" y="3587.5"><tspan class="i">Peckorumyces umbonatus</tspan> DQ457670</text>
<text id="R86" class="t e" x="2297" y="3629.6"><tspan class="i">Pruinomycena acicula</tspan> MK278389</text>
<text id="R87" class="t e" x="2468" y="3671.6"><tspan class="i">Armillaria cepistipes</tspan> KY418876</text>
<text id="R88" class="t e" x="2522" y="3713.7"><tspan class="i">Baeospora myosura</tspan> PQ652390</text>
<text id="R89" class="t e" x="2535.5" y="3755.8"><tspan class="i">Pleurella microspora</tspan> OL839186</text>
</g>
<g id="its-support">
<text class="n" x="351" y="89">99</text><text class="n" x="348" y="156">98</text><text class="n" x="323" y="225">99</text><text class="n" x="351" y="267">56</text><text class="n" x="287" y="314">87</text><text class="n" x="355" y="344">81</text><text class="n" x="331" y="373">82</text><text class="n" x="307" y="448.5">74</text><text class="n" x="283" y="492.5">100</text><text class="n" x="247" y="521">60</text><text class="n" x="303" y="605">96</text><text class="n" x="299" y="677">74</text><text class="n" x="269" y="738">79</text><text class="n" x="207" y="709">77</text><text class="n" x="351" y="827">100</text><text class="n" x="279" y="856">94</text>
<text class="n" x="323" y="999">100</text><text class="n" x="320.6" y="1033">75</text><text class="n" x="310.5" y="1164">51</text><text class="n" x="332" y="1199">99</text><text class="n" x="295.5" y="1215">55</text><text class="n" x="295.5" y="1250">82</text><text class="n" x="297" y="1346">100</text><text class="n" x="325.6" y="1457">50</text><text class="n" x="325.6" y="1486">90</text><text class="n" x="305.5" y="1540">93</text><text class="n" x="335.6" y="1569">71</text><text class="n" x="330.6" y="1596">90</text><text class="n" x="302" y="1623">80</text><text class="n" x="317" y="1677.5">100</text><text class="n" x="307" y="1706">100</text><text class="n" x="273.7" y="1763.5">89</text><text class="n" x="288.8" y="1824">55</text><text class="n" x="285.5" y="1856">63</text><text class="n" x="243.6" y="1866">99</text><text class="n" x="278.8" y="1961">53</text>
<text class="n" x="482" y="2087">79</text><text class="n" x="473" y="2116">61</text><text class="n" x="465" y="2147">98</text><text class="n" x="418.5" y="2272.5">99</text><text class="n" x="402.6" y="2341">99</text><text class="n" x="773" y="2419">100</text><text class="n" x="486" y="2448">95</text><text class="n" x="394.6" y="2607">100</text><text class="n" x="394.6" y="2754">100</text><text class="n" x="353" y="2789">55</text><text class="n" x="388" y="2865.6">87</text><text class="n" x="335" y="2875">51</text><text class="n" x="424" y="2897">99</text><text class="n" x="375" y="2998">95</text><text class="n" x="291" y="3067">89</text><text class="n" x="356" y="3089.6">100</text><text class="n" x="402.6" y="3123">97</text><text class="n" x="356" y="3151">86</text><text class="n" x="329" y="3185">86</text><text class="n" x="397" y="3272">75</text><text class="n" x="375" y="3300">98</text><text class="n" x="287" y="3384">100</text><text class="n" x="277" y="3457">92</text><text class="n" x="257" y="3608.6">100</text><text class="n" x="179" y="3541">65</text><text class="n" x="127.6" y="3718">99</text>
</g>
<g id="lsu-support">
<text class="n" x="2514.5" y="247">96</text><text class="n" x="2522" y="288.4">85</text><text class="n" x="2481" y="392">94</text><text class="n" x="2489" y="462.5">96</text><text class="n" x="2522" y="518">64</text><text class="n" x="2530" y="550">68</text><text class="n" x="2553.4" y="604">59</text><text class="n" x="2518" y="642.4">61</text><text class="n" x="2535.5" y="677.5">69</text><text class="n" x="2577" y="738">100</text><text class="n" x="2545.6" y="961">66</text>
<text class="n" x="2483.5" y="1022.5">100</text><text class="n" x="2479.6" y="1147">78</text><text class="n" x="2475.6" y="1317">62</text><text class="n" x="2514.5" y="1322">81</text><text class="n" x="2464" y="1443.4">86</text><text class="n" x="2479.6" y="1476.6">65</text><text class="n" x="2460" y="1569">97</text><text class="n" x="2499" y="1629.6">72</text><text class="n" x="2471.8" y="1694.7">76</text><text class="n" x="2538" y="1728">94</text><text class="n" x="2470" y="1779.5">86</text>
<text class="n" x="2382" y="1990">60</text><text class="n" x="2392.5" y="2030">99</text><text class="n" x="2429" y="2082">55</text><text class="n" x="2437" y="2158">58</text><text class="n" x="2375" y="2200">65</text><text class="n" x="2392.5" y="2272.5">100</text><text class="n" x="2444.6" y="2325">100</text><text class="n" x="2462.5" y="2492.5">51</text><text class="n" x="2473.4" y="2569">73</text><text class="n" x="2475.6" y="2661.5">100</text><text class="n" x="2458.5" y="2744.4">64</text><text class="n" x="2474" y="2786">53</text><text class="n" x="2462.5" y="2829">90</text><text class="n" x="2514.5" y="2913">100</text><text class="n" x="2378.5" y="2951.7">100</text><text class="n" x="2471.8" y="2996.3">52</text><text class="n" x="2461.7" y="3045">84</text><text class="n" x="2447" y="3165.3">98</text><text class="n" x="2438" y="3210">54</text><text class="n" x="2454.7" y="3291.6">97</text><text class="n" x="2604" y="3333.7">97</text><text class="n" x="2581" y="3378">100</text><text class="n" x="2581" y="3452">92</text><text class="n" x="2581" y="3544">94</text><text class="n" x="2685.6" y="3454">55</text><text class="n" x="2635" y="3754.6">89</text>
</g>
</svg>
